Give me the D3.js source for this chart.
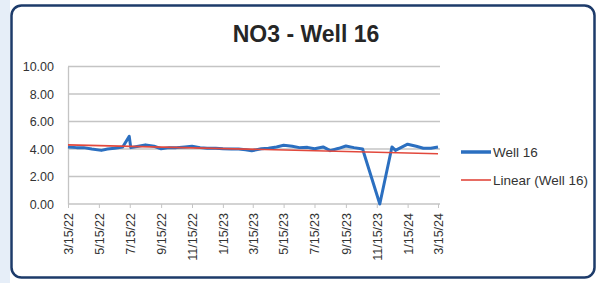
<!DOCTYPE html>
<html>
<head>
<meta charset="utf-8">
<script src="https://cdn.jsdelivr.net/npm/d3@7"></script>
<style>
  body { margin: 0; background: #fff; }
  svg { display: block; font-family: "Liberation Sans", Arial, sans-serif; }
</style>
</head>
<body>
<div id="chart"></div>
<script>
// sample dates and NO3 values
var sampleDates = ["2022-03-15","2022-04-01","2022-04-15","2022-05-01","2022-05-20","2022-06-01",
  "2022-06-15","2022-07-01","2022-07-14","2022-07-17","2022-08-01","2022-08-15","2022-09-01",
  "2022-09-15","2022-10-01","2022-10-15","2022-11-01","2022-11-15","2022-12-01","2022-12-15",
  "2023-01-01","2023-01-15","2023-02-01","2023-02-15","2023-03-01","2023-03-13","2023-04-01",
  "2023-04-15","2023-05-01","2023-05-15","2023-06-01","2023-06-15","2023-07-01","2023-07-15",
  "2023-08-01","2023-08-15","2023-09-01","2023-09-15","2023-10-01","2023-10-18","2023-11-21",
  "2023-12-15","2023-12-22","2024-01-15","2024-02-01","2024-02-15","2024-03-01","2024-03-15"];
var well16 = [4.15,4.1,4.1,4.0,3.9,4.0,
  4.05,4.15,4.92,4.1,4.2,4.3,4.2,
  4.02,4.1,4.1,4.15,4.2,4.1,4.05,
  4.05,4.02,4.0,4.0,3.95,3.87,4.02,
  4.05,4.15,4.27,4.2,4.1,4.12,4.02,
  4.15,3.88,4.05,4.22,4.1,4.0,0.0,
  4.15,3.9,4.35,4.2,4.05,4.05,4.15];
// linear trendline ends (start, end)
var trendDates = ["2022-03-15","2024-03-15"];
var trendValues = [4.3, 3.66];
var xTickDates = ["2022-03-15","2022-05-15","2022-07-15","2022-09-15","2022-11-15","2023-01-15",
  "2023-03-15","2023-05-15","2023-07-15","2023-09-15","2023-11-15","2024-01-15","2024-03-15"];
var xTickLabels = ["3/15/22","5/15/22","7/15/22","9/15/22","11/15/22","1/15/23","3/15/23",
  "5/15/23","7/15/23","9/15/23","11/15/23","1/15/24","3/15/24"];
var yTicks = [0, 2, 4, 6, 8, 10];
var seriesNames = ["Well 16", "Linear (Well 16)"];

(function() {
  var width = 597, height = 283;
  var parse = d3.timeParse("%Y-%m-%d");

  var svg = d3.select("#chart").append("svg")
      .attr("width", width)
      .attr("height", height);

  // scanned light edge on the left
  svg.append("rect").attr("x", 0).attr("y", 0).attr("width", 10).attr("height", height)
    .attr("fill", "#e6eef8");

  // chart frame
  svg.append("rect")
    .attr("x", 11.5).attr("y", 5.5)
    .attr("width", 583).attr("height", 272)
    .attr("rx", 10).attr("ry", 10)
    .attr("fill", "#fff")
    .attr("stroke", "#1d3b6a")
    .attr("stroke-width", 2.5);

  svg.append("text")
    .attr("x", 306).attr("y", 42)
    .attr("text-anchor", "middle")
    .attr("font-size", 23).attr("font-weight", "bold")
    .attr("fill", "#262626")
    .text("NO3 - Well 16");

  var x = d3.scaleTime()
      .domain([parse("2022-03-15"), parse("2024-03-15")])
      .range([68, 438]);
  var y = d3.scaleLinear().domain([0, 10]).range([204, 66.5]);
  var plotRight = 440;

  // gridlines
  svg.append("g").selectAll("line").data(yTicks.filter(function(d) { return d > 0; }))
    .enter().append("line")
    .attr("x1", 68).attr("x2", plotRight)
    .attr("y1", function(d) { return y(d); })
    .attr("y2", function(d) { return y(d); })
    .attr("stroke", "#c4c4c4").attr("stroke-width", 1.3);

  // y axis
  var yAxis = svg.append("g").attr("transform", "translate(68,0)")
    .call(d3.axisLeft(y).tickValues(yTicks).tickSize(0).tickPadding(14)
      .tickFormat(d3.format(".2f")));
  yAxis.select(".domain").attr("stroke", "#c4c4c4").attr("stroke-width", 1.3);
  yAxis.selectAll("text").attr("font-size", 12.5).attr("fill", "#333")
    .attr("font-family", "'Liberation Sans', Arial, sans-serif");

  // x axis
  var tickDates = xTickDates.map(parse);
  var xAxis = svg.append("g").attr("transform", "translate(0," + y(0) + ")")
    .call(d3.axisBottom(x).tickValues(tickDates).tickSize(4).tickSizeOuter(0)
      .tickFormat(function(d, i) { return xTickLabels[i]; }));
  xAxis.select(".domain").attr("d", "M68,0H" + plotRight)
    .attr("stroke", "#c4c4c4").attr("stroke-width", 1.3);
  xAxis.selectAll(".tick line").attr("stroke", "#c4c4c4");
  xAxis.selectAll("text")
    .attr("font-size", 12.5).attr("fill", "#333")
    .attr("font-family", "'Liberation Sans', Arial, sans-serif")
    .attr("transform", "rotate(-90)")
    .attr("text-anchor", "end")
    .attr("x", -9).attr("y", 0).attr("dy", "0.35em");

  var pts = sampleDates.map(function(d, i) { return { date: parse(d), v: well16[i] }; });
  var line = d3.line()
      .x(function(d) { return x(d.date); })
      .y(function(d) { return y(d.v); });

  svg.append("path").datum(pts)
    .attr("d", line)
    .attr("fill", "none")
    .attr("stroke", "#2b6fc0")
    .attr("stroke-width", 3)
    .attr("stroke-linejoin", "round");

  var trend = trendDates.map(function(d, i) { return { date: parse(d), v: trendValues[i] }; });
  svg.append("path").datum(trend)
    .attr("d", line)
    .attr("fill", "none")
    .attr("stroke", "#e2483c")
    .attr("stroke-width", 1.6);

  // legend
  var legendColors = ["#2b6fc0", "#e2483c"];
  var legendWidths = [3.5, 1.6];
  var legend = svg.append("g").selectAll("g").data(seriesNames).enter().append("g")
    .attr("transform", function(d, i) { return "translate(461," + (152 + i * 28) + ")"; });
  legend.append("line")
    .attr("x1", 0).attr("x2", 30)
    .attr("stroke", function(d, i) { return legendColors[i]; })
    .attr("stroke-width", function(d, i) { return legendWidths[i]; });
  legend.append("text")
    .attr("x", 32).attr("dy", "0.35em")
    .attr("font-size", 13.5).attr("fill", "#333")
    .text(function(d) { return d; });
})();
</script>
</body>
</html>
